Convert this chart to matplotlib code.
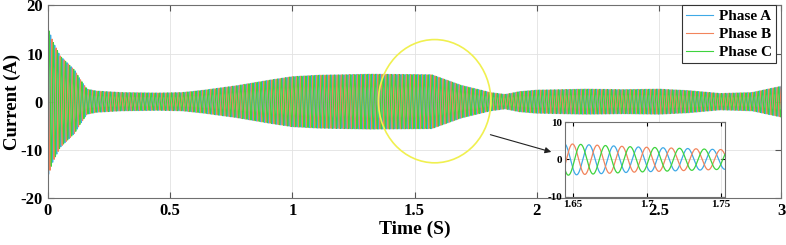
import numpy as np
import matplotlib.pyplot as plt
from matplotlib.patches import Ellipse

plt.rcParams['font.family'] = ['Liberation Serif', 'DejaVu Serif']
plt.rcParams['font.weight'] = 'bold'
plt.rcParams['axes.unicode_minus'] = False

# amplitude envelope of the phase currents
env_time = [0, 0.02, 0.05, 0.08, 0.11, 0.13, 0.16, 0.2, 0.3, 0.45, 0.55, 0.64, 0.77,
            0.91, 1.0, 1.11, 1.32, 1.57, 1.69, 1.81, 1.87, 1.93, 2.0, 2.2, 2.35, 2.5,
            2.62, 2.75, 2.88, 3.0]
env_amp = [15.5, 12.5, 9.5, 8.0, 6.5, 4.8, 2.6, 2.2, 1.9, 1.8, 1.9, 2.4, 3.3,
           4.5, 5.2, 5.5, 5.7, 5.6, 3.4, 1.9, 1.5, 2.1, 2.4, 2.6, 2.5, 2.6,
           2.3, 1.7, 1.9, 3.2]
freq = 60.0  # Hz
phase_names = ['Phase A', 'Phase B', 'Phase C']
phase_shift = [0, -120, 120]  # deg
colors = ['#3fa9e6', '#f2845c', '#3ed33e']

x_ticks = [0, 0.5, 1, 1.5, 2, 2.5, 3]
y_ticks = [-20, -10, 0, 10, 20]
zoom_ticks = [1.65, 1.7, 1.75]

t = np.arange(0, 3.0, 1 / 20000)
amp = np.interp(t, env_time, env_amp)
w = 2 * np.pi * freq
phi0 = np.deg2rad(210)

fig = plt.figure(figsize=(7.86, 2.45), dpi=100)
ax = fig.add_axes([0.061, 0.192, 0.933, 0.786])
for name, sh, c in zip(phase_names, phase_shift, colors):
    ax.plot(t, amp * np.sin(w * t + phi0 + np.deg2rad(sh)), color=c, lw=0.8, label=name)

ax.set_xlim(0, 3)
ax.set_ylim(-20, 20)
ax.set_xticks(x_ticks)
ax.set_xticklabels(['0', '0.5', '1', '1.5', '2', '2.5', '3'])
ax.set_yticks(y_ticks)
ax.tick_params(direction='in', top=True, right=True, labelsize=12, length=4, color='#555555')
ax.grid(True, color='#e2e2e2', lw=0.6)
for s in ax.spines.values():
    s.set_color('#707070')
ax.set_xlabel('Time (S)', fontsize=14, fontweight='bold', labelpad=1)
ax.set_ylabel('Current (A)', fontsize=13.5, fontweight='bold', labelpad=0)

leg = ax.legend(loc='upper right', bbox_to_anchor=(0.993, 1.0), borderaxespad=0,
                fontsize=11, handlelength=1.8, handletextpad=0.4, borderpad=0.25,
                labelspacing=0.3, fancybox=False, framealpha=1, edgecolor='#333333')
leg.get_frame().set_linewidth(0.8)

ax.add_patch(Ellipse((1.582, 0.1), 0.46, 25.6, fill=False, edgecolor='#f0f050', lw=1.2, zorder=5))
ax.annotate('', xy=(2.07, -10.6), xytext=(1.799, -6.7),
            arrowprops=dict(arrowstyle='-|>', color='#222222', lw=0.8, mutation_scale=9))

# zoomed inset
axin = fig.add_axes([0.719, 0.196, 0.2036, 0.306])
m = (t > 1.64) & (t < 1.76)
for sh, c in zip(phase_shift, colors):
    axin.plot(t[m], amp[m] * np.sin(w * t[m] + phi0 + np.deg2rad(sh)), color=c, lw=0.9)
axin.set_xlim(1.645, 1.753)
axin.set_ylim(-10, 10)
axin.set_xticks(zoom_ticks)
axin.set_xticklabels(['1.65', '1.7', '1.75'])
axin.set_yticks([-10, 0, 10])
axin.tick_params(direction='in', top=True, right=True, labelsize=8, length=3, pad=2)
axin.grid(True, color='#e2e2e2', lw=0.6)
for s in axin.spines.values():
    s.set_color('#707070')

fig.savefig('out.png', dpi=100)
